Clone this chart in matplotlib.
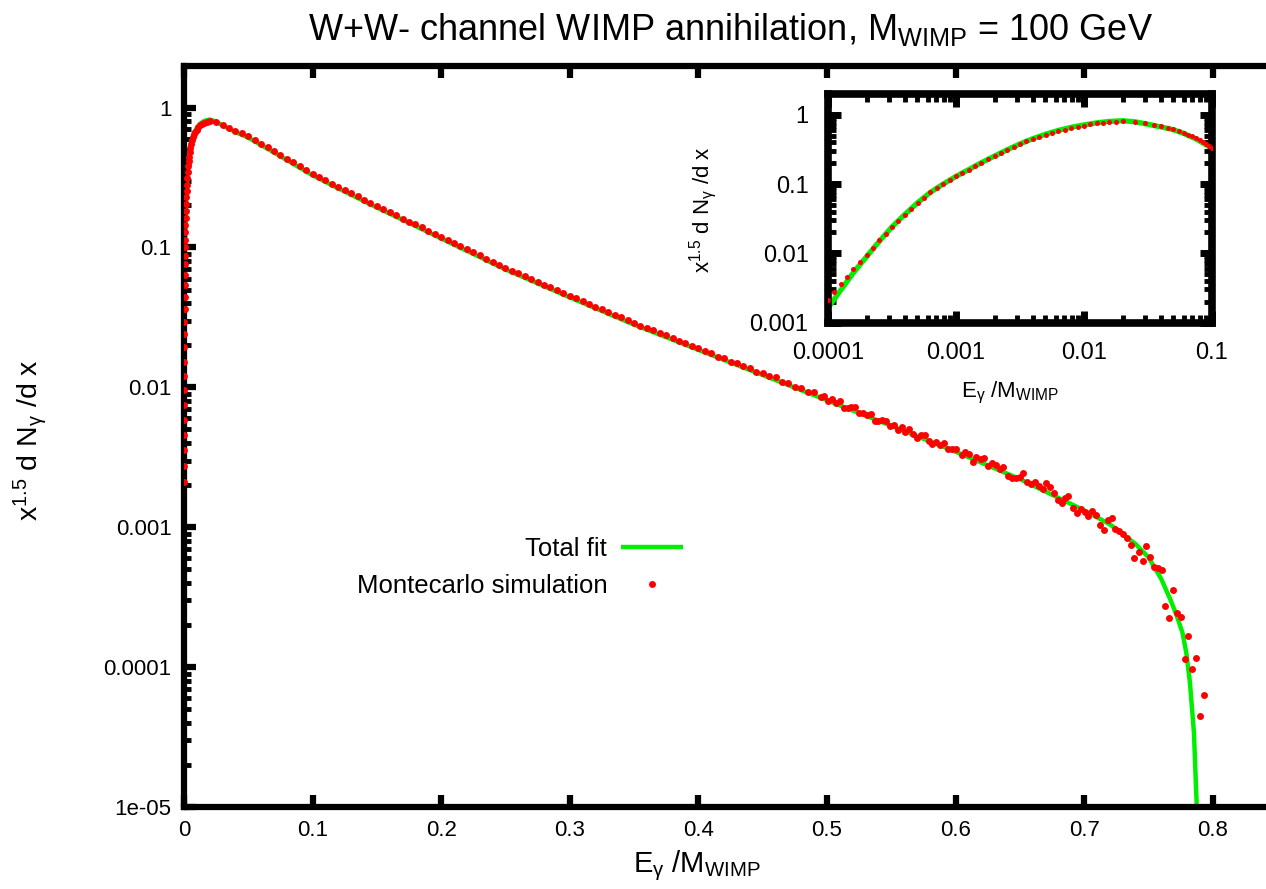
import matplotlib
matplotlib.use("Agg")
import matplotlib.pyplot as plt
from matplotlib.ticker import FixedLocator, FixedFormatter, LogLocator, NullLocator, NullFormatter

# ---------------- data ----------------
# Total fit curve
fit_x = [1.00e-4, 1.26e-4, 1.58e-4, 2.00e-4, 2.51e-4, 3.16e-4, 3.98e-4, 5.01e-4, 6.31e-4, 7.94e-4,
         1.00e-3, 1.26e-3, 1.58e-3, 2.00e-3, 2.51e-3, 3.16e-3, 3.98e-3, 5.01e-3, 6.31e-3, 7.94e-3,
         1.00e-2, 1.26e-2, 1.58e-2, 2.00e-2, 0.025, 0.03, 0.04, 0.05, 0.06, 0.075,
         0.1, 0.125, 0.15, 0.175, 0.2, 0.25, 0.3, 0.35, 0.4, 0.45,
         0.5, 0.55, 0.6, 0.65, 0.7, 0.72, 0.74, 0.75, 0.76, 0.767,
         0.772, 0.7765, 0.7795, 0.7823, 0.7854, 0.7875, 0.788]
fit_y = [0.00162, 0.00295, 0.00525, 0.00891, 0.0148, 0.0240, 0.0363, 0.0537, 0.0759, 0.100,
         0.129, 0.162, 0.204, 0.254, 0.313, 0.380, 0.452, 0.525, 0.596, 0.661,
         0.716, 0.767, 0.804, 0.822, 0.794, 0.745, 0.668, 0.610, 0.540, 0.449,
         0.328, 0.251, 0.193, 0.150, 0.116, 0.0697, 0.0440, 0.0281, 0.01854, 0.01225,
         0.00809, 0.00531, 0.00347, 0.00221, 0.00132, 0.00105, 0.000759, 0.00061, 0.000427, 0.000305,
         0.000234, 0.000176, 0.000126, 0.0000773, 0.000034, 0.0000107, 0.000005]

# Montecarlo simulation, logarithmic bins at low energy
mc_low_x = [1.00e-4, 1.12e-4, 1.26e-4, 1.41e-4, 1.58e-4, 1.78e-4, 2.00e-4, 2.24e-4, 2.51e-4, 2.82e-4,
            3.16e-4, 3.55e-4, 3.98e-4, 4.47e-4, 5.01e-4, 5.62e-4, 6.31e-4, 7.08e-4, 7.94e-4, 8.91e-4,
            1.00e-3, 1.12e-3, 1.26e-3, 1.41e-3, 1.58e-3, 1.78e-3, 2.00e-3, 2.24e-3, 2.51e-3, 2.82e-3,
            3.16e-3, 3.55e-3, 3.98e-3, 4.47e-3, 5.01e-3, 5.62e-3, 6.31e-3, 7.08e-3, 7.94e-3, 8.91e-3,
            1.00e-2, 1.12e-2, 1.26e-2, 1.41e-2, 1.58e-2, 1.78e-2, 2.00e-2]
mc_low_y = [2.09e-3, 2.72e-3, 3.55e-3, 4.57e-3, 5.89e-3, 7.50e-3, 9.55e-3, 1.20e-2, 1.53e-2, 1.93e-2,
            2.40e-2, 2.95e-2, 3.63e-2, 4.42e-2, 5.37e-2, 6.38e-2, 7.59e-2, 8.71e-2, 0.100, 0.1135,
            0.129, 0.1445, 0.162, 0.182, 0.204, 0.228, 0.254, 0.282, 0.313, 0.345,
            0.380, 0.412, 0.447, 0.482, 0.516, 0.550, 0.582, 0.614, 0.646, 0.673,
            0.695, 0.728, 0.750, 0.762, 0.776, 0.794, 0.804]

# Montecarlo simulation, linear bins
mc_x = [0.025, 0.030, 0.035, 0.040, 0.045, 0.050, 0.055, 0.060, 0.065, 0.070,
        0.075, 0.080, 0.085, 0.090, 0.095, 0.100, 0.105, 0.110, 0.115, 0.120,
        0.125, 0.130, 0.135, 0.140, 0.145, 0.150, 0.155, 0.160, 0.165, 0.170,
        0.175, 0.180, 0.185, 0.190, 0.195, 0.200, 0.205, 0.210, 0.215, 0.220,
        0.225, 0.230, 0.235, 0.240, 0.245, 0.250, 0.255, 0.260, 0.265, 0.270,
        0.275, 0.280, 0.285, 0.290, 0.295, 0.300, 0.305, 0.310, 0.315, 0.320,
        0.325, 0.330, 0.335, 0.340, 0.345, 0.350, 0.355, 0.360, 0.365, 0.370,
        0.375, 0.380, 0.385, 0.390, 0.395, 0.400, 0.405, 0.410, 0.415, 0.420,
        0.425, 0.430, 0.435, 0.440, 0.445, 0.450, 0.455, 0.460, 0.465, 0.470,
        0.475, 0.480, 0.485, 0.490, 0.495,
        0.498, 0.501, 0.504, 0.507, 0.510, 0.513, 0.516, 0.519, 0.522, 0.525,
        0.528, 0.531, 0.534, 0.537, 0.540, 0.543, 0.546, 0.549, 0.552, 0.555,
        0.558, 0.561, 0.564, 0.567, 0.570, 0.573, 0.576, 0.579, 0.582, 0.585,
        0.588, 0.591, 0.594, 0.597, 0.600,
        0.6047, 0.6073, 0.6107, 0.6133, 0.6159, 0.6195, 0.6221, 0.6255, 0.6280, 0.6314,
        0.6345, 0.6371, 0.6405, 0.6436, 0.6470, 0.6501, 0.6522, 0.6553, 0.6584, 0.6617,
        0.6651, 0.6677, 0.6703, 0.6734, 0.6765, 0.6794, 0.6825, 0.6851, 0.6877, 0.6911,
        0.6942, 0.6973, 0.7007, 0.7033, 0.7064, 0.7093, 0.7124, 0.7155, 0.7184, 0.7215,
        0.7241, 0.7275, 0.7306, 0.7332, 0.7364, 0.7390, 0.7423, 0.7457, 0.7483, 0.7514,
        0.7540, 0.7571, 0.7605,
        0.7628, 0.7663, 0.7693, 0.7719, 0.7750, 0.7784, 0.7810, 0.7840, 0.7870, 0.7898,
        0.7932]
mc_y = [0.785, 0.750, 0.716, 0.684, 0.653, 0.624, 0.586, 0.552, 0.519, 0.488,
        0.459, 0.432, 0.406, 0.380, 0.357, 0.336, 0.318, 0.302, 0.286, 0.272,
        0.258, 0.244, 0.232, 0.220, 0.208, 0.198, 0.188, 0.179, 0.170, 0.161,
        0.153, 0.146, 0.139, 0.132, 0.125, 0.119, 0.113, 0.108, 0.102, 0.0971,
        0.0923, 0.0877, 0.0834, 0.0793, 0.0753, 0.0716, 0.0684, 0.0653, 0.0624, 0.0596,
        0.0569, 0.0543, 0.0519, 0.0495, 0.0473, 0.0452, 0.0433, 0.0413, 0.0395, 0.0378,
        0.0361, 0.0345, 0.0330, 0.0316, 0.0302, 0.0290, 0.0276, 0.0266, 0.0257, 0.0243,
        0.0236, 0.0224, 0.0214, 0.0209, 0.0198, 0.0192, 0.0181, 0.0177, 0.0166, 0.0163,
        0.0153, 0.0150, 0.0141, 0.0138, 0.0129, 0.0127, 0.0121, 0.0118, 0.0109, 0.0108,
        0.0100, 0.0099, 0.0092, 0.0092, 0.0085,
        0.00871, 0.00802, 0.00822, 0.00771, 0.00796, 0.00716, 0.00715, 0.00721, 0.00719, 0.00655,
        0.00653, 0.00630, 0.00643, 0.00578, 0.00577, 0.00582, 0.00574, 0.00528, 0.00540, 0.00497,
        0.00525, 0.00483, 0.00505, 0.00465, 0.00438, 0.00457, 0.00456, 0.00415, 0.00391, 0.00408,
        0.00385, 0.00397, 0.00361, 0.00361, 0.00364,
        0.00327, 0.00347, 0.00332, 0.00294, 0.00318, 0.00306, 0.00315, 0.00274, 0.00290, 0.00277,
        0.00259, 0.00270, 0.00232, 0.00226, 0.00226, 0.00230, 0.00243, 0.00211, 0.00203, 0.00211,
        0.00197, 0.00189, 0.00206, 0.00195, 0.00175, 0.00156, 0.00150, 0.00161, 0.00167, 0.00138,
        0.00127, 0.00136, 0.00129, 0.00120, 0.00131, 0.00122, 0.00103, 0.000955, 0.00113, 0.00116,
        0.000977, 0.000940, 0.000889, 0.000841, 0.000743, 0.000605, 0.000665, 0.000573, 0.000735, 0.000617,
        0.000522, 0.000514, 0.000494,
        0.000275, 0.000224, 0.000355, 0.000245, 0.000229, 0.000115, 0.000166, 0.0000977, 0.000117, 0.0000447,
        0.0000631]

assert len(fit_x) == len(fit_y)
assert len(mc_low_x) == len(mc_low_y)
assert len(mc_x) == len(mc_y)

# ticks
main_xticks = [0, 0.1, 0.2, 0.3, 0.4, 0.5, 0.6, 0.7, 0.8]
main_xticklabels = ["0", "0.1", "0.2", "0.3", "0.4", "0.5", "0.6", "0.7", "0.8"]
main_yticks = [1e-5, 1e-4, 1e-3, 1e-2, 1e-1, 1]
main_yticklabels = ["1e-05", "0.0001", "0.001", "0.01", "0.1", "1"]
inset_xticks = [1e-4, 1e-3, 1e-2, 1e-1]
inset_xticklabels = ["0.0001", "0.001", "0.01", "0.1"]
inset_yticks = [1e-3, 1e-2, 1e-1, 1]
inset_yticklabels = ["0.001", "0.01", "0.1", "1"]

title_text = r"W+W- channel WIMP annihilation, M$_{\mathrm{WIMP}}$ = 100 GeV"
xlabel_text = r"E$_{\mathrm{γ}}$ /M$_{\mathrm{WIMP}}$"
ylabel_text = r"x$^{1.5}$ d N$_{\mathrm{γ}}$ /d x"
legend_labels = ["Total fit", "Montecarlo simulation"]

# ---------------- style ----------------
plt.rcParams['font.family'] = ['Liberation Sans', 'DejaVu Sans']
plt.rcParams['mathtext.fontset'] = 'custom'
plt.rcParams['mathtext.rm'] = 'Liberation Sans'
plt.rcParams['mathtext.it'] = 'Liberation Sans:italic'
plt.rcParams['mathtext.bf'] = 'Liberation Sans:bold'
plt.rcParams['mathtext.sf'] = 'Liberation Sans'

GREEN = '#00ee00'
RED = '#ff0000'
W, H = 1266, 889

fig = plt.figure(figsize=(W / 100, H / 100), dpi=100)

all_x = mc_low_x + mc_x
all_y = mc_low_y + mc_y

# ---------------- main axes ----------------
ax = fig.add_axes([184 / W, 82 / H, 1093 / W, 741.5 / H])
ax.set_yscale('log')
ax.set_xlim(0, 0.85)
ax.set_ylim(1e-5, 2)
fit_line, = ax.plot(fit_x, fit_y, color=GREEN, lw=3.2, zorder=2, solid_capstyle='butt')
mc_pts, = ax.plot(all_x, all_y, ls='none', marker='o', ms=5.0, mfc=RED, mec=RED, mew=0, zorder=3)

ax.xaxis.set_major_locator(FixedLocator(main_xticks))
ax.xaxis.set_major_formatter(FixedFormatter(main_xticklabels))
ax.xaxis.set_minor_locator(NullLocator())
ax.yaxis.set_major_locator(FixedLocator(main_yticks))
ax.yaxis.set_major_formatter(FixedFormatter(main_yticklabels))
ax.yaxis.set_minor_locator(LogLocator(base=10, subs=range(2, 10), numticks=30))
ax.yaxis.set_minor_formatter(NullFormatter())
ax.tick_params(which='both', direction='in', top=True, right=False)
ax.tick_params(which='major', length=8.5, width=4.5, labelsize=16, pad=9)
ax.tick_params(which='minor', length=5, width=3.5)
for s in ax.spines.values():
    s.set_linewidth(4.5)
    s.set_capstyle('projecting')

ax.set_title(title_text, fontsize=26, pad=18)
ax.set_xlabel(xlabel_text, fontsize=21, va='center')
ax.xaxis.set_label_coords((697 - 184) / 1093, -(866 - 807) / 741.5)
ax.set_ylabel(ylabel_text, fontsize=20.5, va='center')
ax.yaxis.set_label_coords(-(184 - 30) / 1093, (807 - 440) / 741.5)

ax.legend([fit_line, mc_pts], legend_labels, loc='upper right',
          bbox_to_anchor=(683 / W, 1 - 537 / H), bbox_transform=fig.transFigure,
          frameon=False, markerfirst=False, handlelength=2.4, handletextpad=0.55,
          labelspacing=0.52, borderpad=0, borderaxespad=0, numpoints=1, fontsize=18.5)

# ---------------- inset axes ----------------
axi = fig.add_axes([828 / W, (H - 322.5) / H, 384 / W, 228.5 / H])
axi.set_facecolor('white')
axi.set_xscale('log')
axi.set_yscale('log')
axi.set_xlim(1e-4, 0.1)
axi.set_ylim(1e-3, 2)
axi.plot(fit_x, fit_y, color=GREEN, lw=3.8, zorder=2, solid_capstyle='butt')
axi.plot(all_x, all_y, ls='none', marker='o', ms=3.6, mfc=RED, mec=RED, mew=0, zorder=3)

axi.xaxis.set_major_locator(FixedLocator(inset_xticks))
axi.xaxis.set_major_formatter(FixedFormatter(inset_xticklabels))
axi.xaxis.set_minor_locator(LogLocator(base=10, subs=range(2, 10), numticks=30))
axi.xaxis.set_minor_formatter(NullFormatter())
axi.yaxis.set_major_locator(FixedLocator(inset_yticks))
axi.yaxis.set_major_formatter(FixedFormatter(inset_yticklabels))
axi.yaxis.set_minor_locator(LogLocator(base=10, subs=range(2, 10), numticks=30))
axi.yaxis.set_minor_formatter(NullFormatter())
axi.tick_params(which='both', direction='in', top=True, right=True)
axi.tick_params(which='major', length=9, width=5, labelsize=17, pad=14)
axi.tick_params(which='minor', length=5.5, width=3.5)
for s in axi.spines.values():
    s.set_linewidth(5.5)
    s.set_capstyle('projecting')

axi.set_xlabel(xlabel_text, fontsize=16, va='center')
axi.xaxis.set_label_coords((1010 - 828) / 384, -(393 - 322.5) / 228.5)
axi.set_ylabel(ylabel_text, fontsize=16, va='center')
axi.yaxis.set_label_coords(-(828 - 703) / 384, (322.5 - 210) / 228.5)

fig.savefig('out.png', dpi=100)
